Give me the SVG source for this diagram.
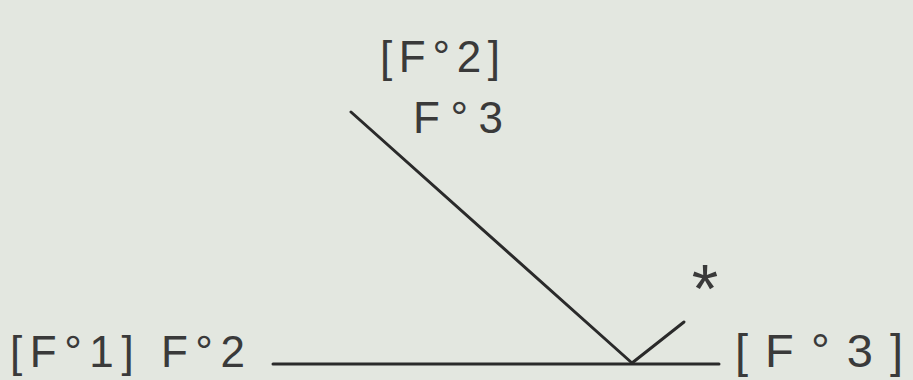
<svg xmlns="http://www.w3.org/2000/svg" width="913" height="380" viewBox="0 0 913 380">
<style>
.t{font-family:"Liberation Sans","DejaVu Sans",sans-serif;font-size:44px;fill:#3a3a3a;}
.l{stroke:#2a2a2a;stroke-width:3;fill:none;stroke-linecap:round;}
</style>
<rect width="913" height="380" fill="#e3e7e0"/>
<g id="connectors">
<line class="l" x1="273" y1="364" x2="719" y2="364"/>
<line class="l" x1="351" y1="112" x2="632" y2="363"/>
<line class="l" x1="632" y1="363" x2="684" y2="322"/>
</g>
<g id="top-label">
<text class="t" x="380" y="72" textLength="120" lengthAdjust="spacing">[F°2]</text>
<text class="t" x="413" y="133" textLength="90" lengthAdjust="spacing">F°3</text>
</g>
<g id="left-label">
<text class="t" x="10" y="367" textLength="235" lengthAdjust="spacing">[F°1] F°2</text>
</g>
<g id="right-label">
<text class="t" x="735" y="367" textLength="168" lengthAdjust="spacing" style="font-size:47px">[F°3]</text>
</g>
<g id="star">
<text class="t" x="705" y="312" text-anchor="middle" style="font-size:68px">*</text>
</g>
</svg>
